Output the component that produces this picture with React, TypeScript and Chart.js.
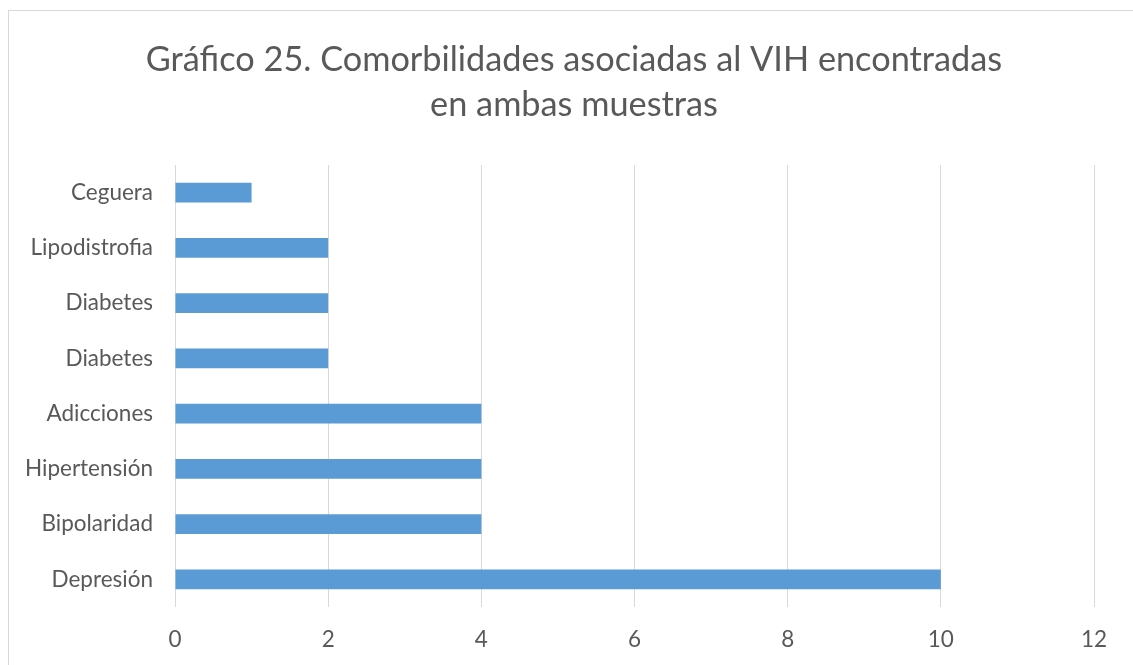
import React, { useEffect, useRef } from "react";
import { Chart, registerables } from "chart.js";

Chart.register(...registerables);

const categories: string[] = [
  "Ceguera",
  "Lipodistrofia",
  "Diabetes",
  "Diabetes",
  "Adicciones",
  "Hipertensión",
  "Bipolaridad",
  "Depresión",
];
const values: number[] = [1, 2, 2, 2, 4, 4, 4, 10];
const titleLines: string[] = [
  "Gráfico 25. Comorbilidades asociadas al VIH encontradas",
  "en ambas muestras",
];
const xMin = 0;
const xMax = 12;
const xStep = 2;

const TEXT = "#595959";
const GRID = "#D9D9D9";
const BAR = "#5B9BD5";
const FONT = "Lato, 'Open Sans', sans-serif";

const TITLE_SIZE = 34.3;
const TITLE_TOP = 49;
const TITLE_LINE = 45;

const centeredTitle = {
  id: "centeredTitle",
  afterDraw(chart: any) {
    const ctx = chart.ctx;
    ctx.save();
    ctx.fillStyle = TEXT;
    ctx.font = `normal ${TITLE_SIZE}px ${FONT}`;
    ctx.textAlign = "center";
    ctx.textBaseline = "middle";
    const cx = chart.width / 2 + 3;
    titleLines.forEach((line, i) => {
      ctx.fillText(line, cx, TITLE_TOP + i * TITLE_LINE);
    });
    ctx.restore();
  },
};

export default function App() {
  const ref = useRef<HTMLCanvasElement | null>(null);

  useEffect(() => {
    if (!ref.current) return;
    const chart = new Chart(ref.current, {
      type: "bar",
      data: {
        labels: categories,
        datasets: [
          {
            data: values,
            backgroundColor: BAR,
            borderWidth: 0,
            barPercentage: 0.36,
            categoryPercentage: 1,
          },
        ],
      },
      options: {
        indexAxis: "y",
        responsive: false,
        animation: false,
        devicePixelRatio: 1,
        layout: { padding: { left: 0, right: 39, top: 154, bottom: 0 } },
        plugins: {
          legend: { display: false },
          tooltip: { enabled: false },
          title: { display: false },
        },
        scales: {
          x: {
            min: xMin,
            max: xMax,
            ticks: {
              stepSize: xStep,
              color: TEXT,
              padding: 19,
              font: { family: FONT, size: 22.5 },
            },
            grid: { color: GRID, lineWidth: 1, drawTicks: false },
            border: { display: false },
            afterFit: (scale: any) => {
              scale.height = 58;
            },
          },
          y: {
            ticks: {
              color: TEXT,
              padding: 22,
              font: { family: FONT, size: 22.5 },
            },
            grid: { display: false, drawTicks: false },
            border: { display: false },
            afterFit: (scale: any) => {
              scale.width = 166;
            },
          },
        },
      },
      plugins: [centeredTitle],
    });
    return () => chart.destroy();
  }, []);

  return (
    <div
      style={{
        position: "absolute",
        left: 8,
        top: 10,
        width: 1140,
        height: 700,
        border: "1px solid #D9D9D9",
        background: "#fff",
        overflow: "hidden",
      }}
    >
      <canvas ref={ref} width={1124} height={654} style={{ display: "block" }} />
    </div>
  );
}
